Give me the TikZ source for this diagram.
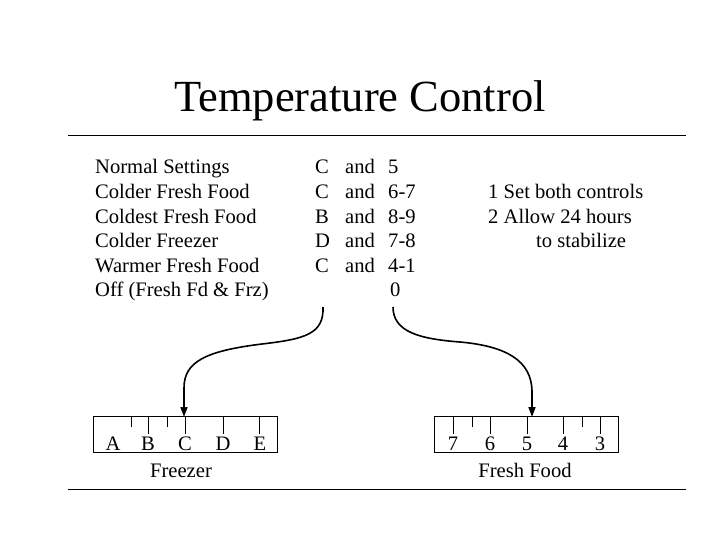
\documentclass[tikz,border=0pt]{standalone}
\usepackage{fontspec}
\setmainfont{Liberation Serif}
\usetikzlibrary{arrows.meta}
\newcommand{\txtsize}{\fontsize{20.6}{24}\selectfont}

\begin{document}
\begin{tikzpicture}[x=1pt,y=-1pt,>={Triangle[length=10pt,width=7pt]},
  txt/.style={anchor=base west,inner sep=0pt,font=\txtsize},
  lbl/.style={anchor=base,inner sep=0pt,font=\txtsize},
  dial/.style={draw,line width=0.9pt,minimum width=184pt,minimum height=36pt,inner sep=0pt},
  tick/.style={line width=0.9pt}]
\useasboundingbox (0,0) rectangle (720,540);
\node[anchor=base,inner sep=0pt,font=\fontsize{44.5}{50}\selectfont] (title) at (360,112) {Temperature Control};
\draw[line width=0.9pt] (68,135) -- (686,135);
\draw[line width=0.9pt] (68,489) -- (686,489);
% settings table
\foreach \i/\s/\c/\n in {0/Normal Settings/C/5,1/Colder Fresh Food/C/6-7,2/Coldest Fresh Food/B/8-9,3/Colder Freezer/D/7-8,4/Warmer Fresh Food/C/4-1}{
  \node[txt] (row\i) at (95,174+24.5*\i) {\s};
  \node[txt] (sw\i) at (315,174+24.5*\i) {\c};
  \node[txt] (and\i) at (345,174+24.5*\i) {and};
  \node[txt] (num\i) at (388,174+24.5*\i) {\n};
}
\node[txt] (row5) at (95,296.5) {Off (Fresh Fd \& Frz)};
\node[txt] (num5) at (390,296.5) {0};
\node[txt] (note1) at (488,198.5) {1 Set both controls};
\node[txt] (note2) at (488,223) {2 Allow 24 hours};
\node[txt] (note3) at (536,247.5) {to stabilize};
% dials
\node[dial] (fzbox) at (185,434) {};
\node[dial] (ffbox) at (526.5,434) {};
\foreach \x/\l in {113/A,148/B,185/C,223/D,260/E}
  \node[lbl] (fz\l) at (\x,450) {\l};
\foreach \x/\l in {453/7,490/6,527/5,563/4,600/3}
  \node[lbl] (ff\l) at (\x,450) {\l};
\foreach \x in {148,185,223,259,453,490,527,563,600}
  \draw[tick] (\x,416) -- (\x,434);
\foreach \x in {131,167,472,582}
  \draw[tick] (\x,416) -- (\x,427);
\node[lbl] (fzname) at (181,477) {Freezer};
\node[lbl] (ffname) at (525,477) {Fresh Food};
% arrows
\coordinate (fzfrom) at (323,307);
\coordinate (fffrom) at (393,307);
\coordinate (fzset) at (184,417);
\coordinate (ffset) at (532,417);
\draw[->,line width=1.6pt] (fzfrom) .. controls (324,334) and (305,339) .. (262,344) .. controls (205,351) and (184,362) .. (184,388) -- (fzset);
\draw[->,line width=1.6pt] (fffrom) .. controls (393,332) and (420,339) .. (460,342) .. controls (505,346) and (532,360) .. (532,392) -- (ffset);
\end{tikzpicture}
\end{document}
